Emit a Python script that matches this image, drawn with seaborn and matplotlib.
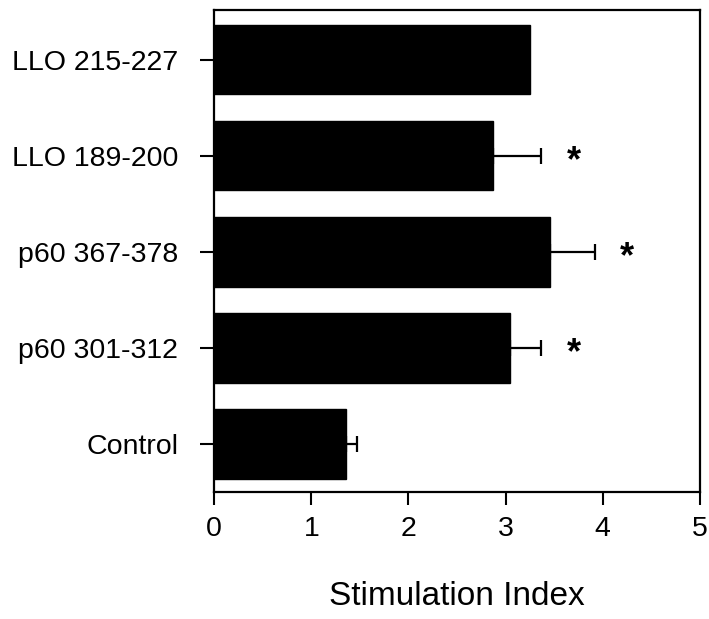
import matplotlib
matplotlib.use("Agg")
import matplotlib.pyplot as plt
import seaborn as sns
import numpy as np

# data
peptides = ["LLO 215-227", "LLO 189-200", "p60 367-378", "p60 301-312", "Control"]
stim_index = [3.25, 2.87, 3.46, 3.05, 1.36]
sem = [0.0, 0.50, 0.46, 0.32, 0.11]
significant = [False, True, True, True, False]

sns.set_style("ticks")
plt.rcParams["font.family"] = ["Liberation Sans", "DejaVu Sans"]
plt.rcParams["text.color"] = "black"
plt.rcParams["axes.labelcolor"] = "black"
plt.rcParams["xtick.color"] = "black"
plt.rcParams["ytick.color"] = "black"

fig = plt.figure(figsize=(7.09, 6.19), dpi=100)
ax = fig.add_axes([0.302, 0.205, 0.685, 0.779])

sns.barplot(x=stim_index, y=peptides, orient="h", color="black",
            width=0.72, edgecolor="black", linewidth=1.0, ax=ax)

# one-sided error bars (only where there is an error)
pos = np.arange(len(peptides))
has_err = np.array(sem) > 0
ax.errorbar(np.array(stim_index)[has_err], pos[has_err],
            xerr=[np.zeros(has_err.sum()), np.array(sem)[has_err]],
            fmt="none", ecolor="black", elinewidth=1.6, capsize=6, capthick=1.6)

for i, (v, e, s) in enumerate(zip(stim_index, sem, significant)):
    if s:
        ax.text(v + e + 0.33, i + 0.06, "*", fontsize=26, fontweight="bold",
                ha="center", va="center", color="black")

ax.set_xlim(0, 5)
ax.set_ylim(4.5, -0.52)
ax.set_xticks(range(6))
ax.set_xlabel("Stimulation Index", fontsize=24, labelpad=28)
ax.set_ylabel("")
ax.tick_params(axis="x", labelsize=20.5, length=9, width=1.5, pad=8)
ax.tick_params(axis="y", labelsize=20.5, length=10, width=1.5, pad=16)
for sp in ax.spines.values():
    sp.set_visible(True)
    sp.set_linewidth(1.6)
    sp.set_color("black")

fig.savefig("out.png", dpi=100)
